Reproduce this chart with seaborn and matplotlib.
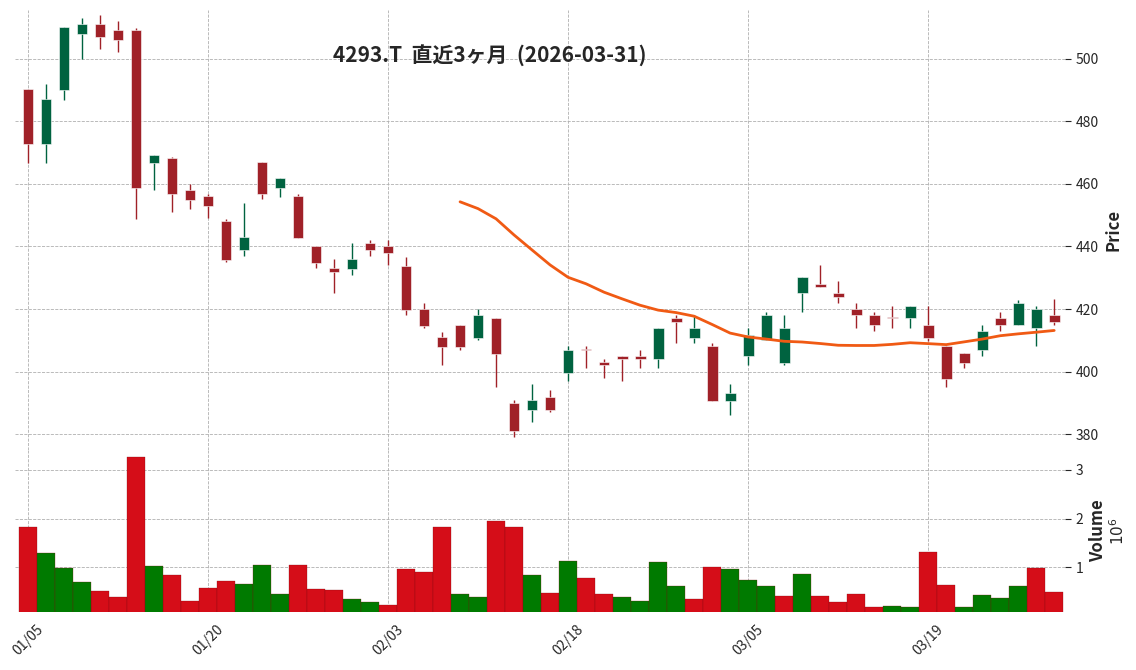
import matplotlib
matplotlib.use("Agg")
import matplotlib.pyplot as plt
import numpy as np
import pandas as pd
import seaborn as sns

# OHLCV (58 trading days)
opens = [490.2, 472.7, 489.9, 507.9, 511.0, 509.0, 509.0, 466.7, 468.2, 457.9,
         456.1, 448.1, 438.9, 466.9, 458.7, 456.1, 440.0, 433.1, 432.9, 441.1,
         440.0, 433.9, 419.9, 411.0, 414.9, 410.9, 417.0, 389.9, 387.9, 391.9,
         399.7, 407.0, 403.2, 405.1, 405.1, 403.9, 417.2, 410.9, 408.3, 390.8,
         404.9, 410.0, 402.9, 425.0, 428.1, 425.2, 420.0, 418.1, 417.1, 417.0,
         414.9, 408.3, 405.9, 406.8, 417.2, 414.8, 413.8, 418.1]
highs = [490.2, 492.0, 510.0, 513.0, 514.0, 512.0, 509.7, 469.1, 468.5, 460.0,
         456.9, 448.9, 454.0, 466.9, 462.0, 456.9, 440.0, 435.9, 441.0, 441.9,
         441.9, 436.7, 421.8, 412.8, 414.9, 419.9, 417.0, 391.0, 396.0, 394.0,
         408.2, 408.2, 404.0, 405.1, 407.0, 414.0, 418.0, 418.0, 409.1, 396.0,
         413.8, 419.0, 418.0, 430.3, 434.0, 429.0, 422.0, 419.0, 420.9, 421.0,
         421.0, 408.3, 405.9, 414.8, 419.0, 423.0, 420.9, 423.2]
lows = [466.8, 466.8, 486.9, 500.0, 502.9, 502.0, 448.9, 457.9, 450.9, 451.8,
        449.0, 434.9, 436.8, 455.0, 455.9, 442.8, 433.0, 425.0, 431.0, 436.8,
        434.0, 418.0, 413.8, 402.0, 406.9, 410.1, 395.0, 379.3, 384.0, 387.0,
        397.1, 401.1, 397.9, 397.0, 401.1, 401.1, 409.1, 409.1, 390.8, 386.2,
        402.1, 410.0, 402.1, 419.0, 426.9, 422.0, 414.0, 413.0, 414.0, 414.0,
        409.7, 395.2, 401.1, 405.0, 413.0, 414.8, 408.2, 414.8]
closes = [472.7, 487.0, 510.0, 511.0, 506.9, 506.0, 458.7, 469.1, 456.8, 454.9,
          453.0, 435.7, 442.9, 456.8, 462.0, 442.8, 434.8, 431.9, 436.0, 438.9,
          438.0, 419.8, 414.7, 408.0, 408.0, 418.1, 405.7, 381.0, 391.0, 387.9,
          407.0, 406.9, 402.0, 403.9, 403.9, 414.0, 416.0, 414.0, 390.8, 393.2,
          411.8, 418.2, 414.0, 430.3, 426.9, 424.0, 418.0, 414.8, 417.0, 421.0,
          410.9, 397.8, 402.9, 413.1, 414.8, 422.0, 420.0, 416.0]
volumes = [1.83, 1.29, 0.99, 0.70, 0.52, 0.39, 3.26, 1.03, 0.84, 0.31,
           0.58, 0.72, 0.66, 1.05, 0.45, 1.05, 0.56, 0.54, 0.35, 0.29,
           0.23, 0.97, 0.90, 1.83, 0.45, 0.39, 1.95, 1.83, 0.84, 0.47,
           1.13, 0.78, 0.45, 0.39, 0.31, 1.11, 0.62, 0.35, 1.01, 0.97,
           0.74, 0.62, 0.41, 0.86, 0.41, 0.29, 0.45, 0.19, 0.21, 0.19,
           1.31, 0.64, 0.19, 0.43, 0.37, 0.62, 0.99, 0.50]
tick_pos = [0, 10, 20, 30, 40, 50]
tick_labels = ["01/05", "01/20", "02/03", "02/18", "03/05", "03/19"]

df = pd.DataFrame({"open": opens, "high": highs, "low": lows,
                   "close": closes, "volume": volumes})
df["x"] = np.arange(len(df))
df["ma"] = df["close"].rolling(25).mean()
df["up"] = df["close"] >= df["open"]
# volume colour follows close vs previous close
vol_up = df["close"].diff() >= 0
vol_up.iloc[0] = False
df["vdir"] = np.where(vol_up, "up", "down")

sns.set_style("white")
plt.rcParams["font.family"] = ["Noto Sans CJK JP", "DejaVu Sans"]

fig = plt.figure(figsize=(11.36, 6.70), dpi=100)
ax = fig.add_axes([15 / 1136, 220 / 670, 1050 / 1136, 440 / 670])
axv = fig.add_axes([15 / 1136, 58 / 670, 1050 / 1136, 162 / 670], sharex=ax)

grid_kw = dict(color="#b0b0b0", linestyle="--", linewidth=0.6)
up_c, dn_c = "#006340", "#a02128"
for a in (ax, axv):
    a.grid(True, **grid_kw)
    for s in a.spines.values():
        s.set_visible(False)
    a.yaxis.tick_right()
    a.yaxis.set_label_position("right")

# candles
colors = np.where(df["up"], up_c, dn_c)
ax.vlines(df["x"], df["low"], df["high"], colors=colors, linewidth=1, zorder=2)
body_lo = np.minimum(df["open"], df["close"])
body_h = np.maximum(np.abs(df["close"] - df["open"]), 0.4)
ax.bar(df["x"], body_h, bottom=body_lo, width=0.6, color=colors,
       edgecolor="white", linewidth=0.4, zorder=3)
sns.lineplot(data=df, x="x", y="ma", ax=ax, color="#f05a14", linewidth=2, zorder=4)
ax.set_ylim(375, 515.5)
ax.set_xlim(-0.72, 57.6)
ax.set_yticks([380, 400, 420, 440, 460, 480, 500])
ax.set_ylabel("Price", fontsize=12, fontweight="bold", labelpad=4)
ax.set_xlabel("")
ax.tick_params(axis="x", labelbottom=False, length=0)
ax.tick_params(axis="y", labelsize=10, length=4)

# volume
sns.barplot(data=df, x="x", y="volume", hue="vdir", native_scale=True,
            palette={"up": "#007a00", "down": "#d50d18"}, width=1.0,
            saturation=1, edgecolor="#7a0a10", linewidth=0.2, legend=False, ax=axv)
axv.set_ylim(0.09, 3.4)
axv.set_yticks([1, 2, 3])
axv.set_ylabel("Volume", fontsize=12, fontweight="bold", labelpad=4)
axv.text(1.042, 0.5, r"$10^6$", transform=axv.transAxes, rotation=90,
         fontsize=11, va="center", ha="left")
axv.set_xlabel("")
axv.set_xticks(tick_pos)
axv.set_xticklabels(tick_labels, rotation=45, ha="center", fontsize=10)
axv.tick_params(axis="both", length=4, labelsize=10)
axv.set_xlim(-0.72, 57.6)

fig.text(490 / 1136, 1 - 55 / 670, "4293.T  直近3ヶ月  (2026-03-31)",
         ha="center", va="center", fontsize=15, fontweight="bold")

fig.savefig("out.png", dpi=100)
